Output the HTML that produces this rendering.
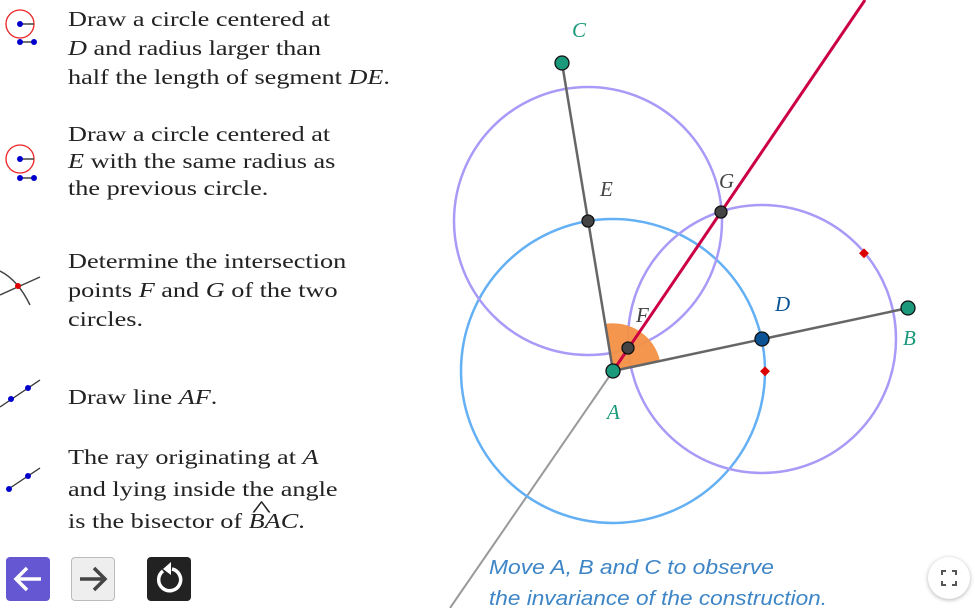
<!DOCTYPE html>
<html><head><style>
body{margin:0;width:975px;height:608px;background:#fff;overflow:hidden;position:relative;font-family:"Liberation Serif",serif;}
.t{position:absolute;left:68px;font-size:21.5px;color:#222;line-height:28px;transform:scaleX(1.22);transform-origin:0 0;white-space:nowrap}
.t i{font-style:italic}
.btn{position:absolute;top:557px;width:44px;height:44px;border-radius:4px;box-sizing:border-box}
</style></head><body>
<div class="t" style="top:5px;line-height:29px">Draw a circle centered at<br><i>D</i> and radius larger than<br>half the length of segment <i>DE</i>.</div>
<div class="t" style="top:121px;line-height:27px">Draw a circle centered at<br><i>E</i> with the same radius as<br>the previous circle.</div>
<div class="t" style="top:247px;line-height:29px">Determine the intersection<br>points <i>F</i> and <i>G</i> of the two<br>circles.</div>
<div class="t" style="top:383px">Draw line <i>AF</i>.</div>
<div class="t" style="top:441px;line-height:32px">The ray originating at <i>A</i><br>and lying inside the angle<br>is the bisector of <i>B</i><i style="position:relative">A<span style="position:absolute;left:-8px;top:-15px;font-style:normal;font-size:24px;transform:scaleX(1.4);display:inline-block">^</span></i><i>C</i>.</div>
<svg width="975" height="608" style="position:absolute;left:0;top:0">
<circle cx="20" cy="24" r="14" fill="none" stroke="#e22" stroke-width="1.3"/>
<line x1="20" y1="24" x2="34" y2="24" stroke="#444" stroke-width="1.5"/><circle cx="20" cy="24" r="3" fill="#00c"/>
<line x1="20" y1="42" x2="34" y2="42" stroke="#444" stroke-width="1.5"/><circle cx="20" cy="42" r="3" fill="#00c"/><circle cx="34" cy="42" r="3" fill="#00c"/>
<circle cx="20" cy="159" r="14" fill="none" stroke="#e22" stroke-width="1.3"/>
<line x1="20" y1="159" x2="34" y2="159" stroke="#444" stroke-width="1.5"/><circle cx="20" cy="159" r="3" fill="#00c"/>
<line x1="20" y1="178" x2="34" y2="178" stroke="#444" stroke-width="1.5"/><circle cx="20" cy="178" r="3" fill="#00c"/><circle cx="34" cy="178" r="3" fill="#00c"/>
<path d="M0 271 Q18 280 30 305" fill="none" stroke="#444" stroke-width="1.5"/>
<line x1="0" y1="295" x2="40" y2="277" stroke="#444" stroke-width="1.5"/><circle cx="18" cy="286" r="3" fill="#d00"/>
<line x1="0" y1="407" x2="40" y2="380" stroke="#333" stroke-width="1.3"/><circle cx="11" cy="399" r="3" fill="#00c"/><circle cx="28" cy="388" r="3" fill="#00c"/>
<line x1="7" y1="490" x2="40" y2="468" stroke="#333" stroke-width="1.3"/><circle cx="9" cy="489" r="3" fill="#00c"/><circle cx="28" cy="476" r="3" fill="#00c"/>
<line x1="613" y1="371" x2="450" y2="608" stroke="#999" stroke-width="2"/>
<circle cx="613" cy="371" r="152" fill="none" stroke="#64b0f4" stroke-width="2.5"/>
<circle cx="588" cy="221" r="134" fill="none" stroke="#a89af7" stroke-width="2.5"/>
<circle cx="762" cy="339" r="134" fill="none" stroke="#a89af7" stroke-width="2.5"/>
<path d="M613 371 L660 361 A48 48 0 0 0 605 324 Z" fill="#f39044" fill-opacity="0.95"/>
<line x1="613" y1="371" x2="562" y2="63" stroke="#666" stroke-width="2.5"/>
<line x1="613" y1="371" x2="908" y2="308" stroke="#666" stroke-width="2.5"/>
<line x1="613" y1="371" x2="865" y2="0" stroke="#cc0044" stroke-width="3"/>
<rect x="860" y="250" width="7" height="7" fill="#d00" transform="rotate(45 864 254)"/>
<rect x="761" y="368" width="7" height="7" fill="#d00" transform="rotate(45 765 372)"/>
<circle cx="588" cy="221" r="6" fill="#444" stroke="#111" stroke-width="1.3"/>
<circle cx="721" cy="212" r="6" fill="#444" stroke="#111" stroke-width="1.3"/>
<circle cx="628" cy="348" r="6" fill="#444" stroke="#111" stroke-width="1.3"/>
<circle cx="762" cy="339" r="7" fill="#0b5394" stroke="#111" stroke-width="1.3"/>
<circle cx="562" cy="63" r="7" fill="#1a9a7a" stroke="#111" stroke-width="1.3"/>
<circle cx="908" cy="308" r="7" fill="#1a9a7a" stroke="#111" stroke-width="1.3"/>
<circle cx="613" cy="371" r="7" fill="#1a9a7a" stroke="#111" stroke-width="1.3"/>
<g font-family="Liberation Serif,serif" font-style="italic" font-size="21">
<text x="572" y="37" fill="#1a9a7a">C</text>
<text x="600" y="196" fill="#444">E</text>
<text x="719" y="188" fill="#444">G</text>
<text x="636" y="322" fill="#444">F</text>
<text x="775" y="311" fill="#0b5394">D</text>
<text x="903" y="345" fill="#1a9a7a">B</text>
<text x="607" y="419" fill="#1a9a7a">A</text>
</g>
<g font-family="Liberation Sans,sans-serif" font-style="italic" font-size="20.5" fill="#3d85c6">
<text x="489" y="574" textLength="285" lengthAdjust="spacingAndGlyphs">Move A, B and C to observe</text>
<text x="489" y="605" textLength="338" lengthAdjust="spacingAndGlyphs">the invariance of the construction.</text>
</g>
</svg>
<div class="btn" style="left:6px;background:#6557d2"><svg width="44" height="44"><path d="M35 22H11M21 11L10 22L21 33" fill="none" stroke="#fff" stroke-width="3.5"/></svg></div>
<div class="btn" style="left:71px;background:#eee;border:1px solid #bbb"><svg width="42" height="42"><path d="M8 21H32M22 10L33 21L22 32" fill="none" stroke="#444" stroke-width="3.5"/></svg></div>
<div class="btn" style="left:147px;background:#222"><svg width="44" height="44"><path d="M16 14A11 11 0 1 0 25 12" fill="none" stroke="#fff" stroke-width="3.5"/><path d="M24 5L24 18L16 12Z" fill="#fff"/></svg></div>
<div style="position:absolute;left:928px;top:557px;width:42px;height:42px;border-radius:50%;background:#fff;box-shadow:0 1px 4px rgba(0,0,0,.3)"><svg width="42" height="42"><path d="M14 18V14H18M24 14H28V18M28 24V28H24M18 28H14V24" fill="none" stroke="#555" stroke-width="2"/></svg></div>
</body></html>
